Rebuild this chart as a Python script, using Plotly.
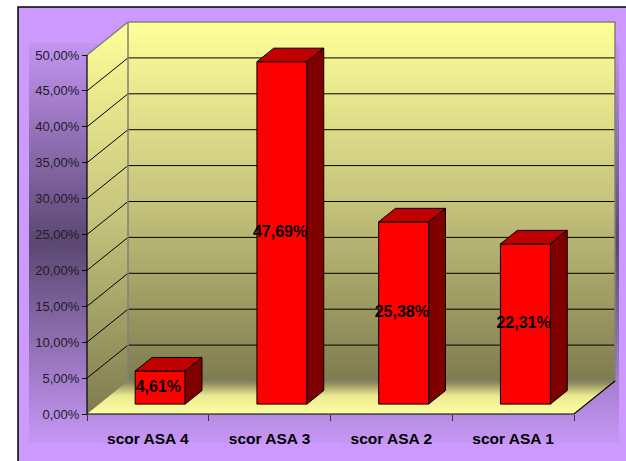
import plotly.graph_objects as go

# ---------------- data ----------------
categories = ["scor ASA 4", "scor ASA 3", "scor ASA 2", "scor ASA 1"]
values = [4.61, 47.69, 25.38, 22.31]
y_ticks = [0, 5, 10, 15, 20, 25, 30, 35, 40, 45, 50]
y_tick_labels = [f"{t:.2f}".replace(".", ",") + "%" for t in y_ticks]

# ---------------- geometry (pixel calibration of the 3D projection) ----------------
W, H = 626, 461
X0PX, CATPX = 87.0, 121.75      # pixel of front-left axis (x=-0.5), pixels per category
Y0PX, PCTPX = 414.0, 7.18       # pixel of 0 %, pixels per percent
DX, DV = 41 / CATPX, 33 / PCTPX  # depth offset in data units
F0, F1 = 0.30, 0.71              # bar depth start / end (fraction of depth)
BW = 50 / CATPX                  # bar width (category units)
VMAX = 50

def px2x(p):
    return (p - X0PX) / CATPX - 0.5

def py2v(p):
    return (Y0PX - p) / PCTPX

XR = [px2x(0), px2x(W)]
VR = [py2v(H), py2v(0)]
n = len(categories)
xl, xr = -0.5, n - 0.5

fig = go.Figure()

def poly(xs, vs, **kw):
    fig.add_trace(go.Scatter(x=list(xs) + [xs[0]], y=list(vs) + [vs[0]], fill="toself",
                             mode="lines", hoverinfo="skip", showlegend=False, **kw))

# plot-area gradient band (purple)
bx0, bx1, bv0, bv1 = px2x(29), px2x(619), py2v(443), py2v(43)
poly([bx0, bx1, bx1, bx0], [bv0, bv0, bv1, bv1], line=dict(width=0),
     fillgradient=dict(type="vertical", start=bv0, stop=bv1,
                       colorscale=[[0, "#C697F5"], [0.5, "#5B4771"], [1, "#C394F1"]]))

wall_cs = [[0, "#7E7C4F"], [0.5, "#C6C37C"], [1, "#FFFF99"]]
# back wall
poly([xl + DX, xr + DX, xr + DX, xl + DX], [DV, DV, VMAX + DV, VMAX + DV],
     line=dict(width=0),
     fillgradient=dict(type="vertical", start=DV, stop=VMAX + DV, colorscale=wall_cs))
# left wall
poly([xl, xl + DX, xl + DX, xl], [0, DV, VMAX + DV, VMAX], line=dict(width=0),
     fillgradient=dict(type="vertical", start=0, stop=VMAX + DV, colorscale=wall_cs))
# floor
poly([xl, xr, xr + DX, xl + DX], [0, 0, DV, DV], line=dict(width=0),
     fillgradient=dict(type="vertical", start=0, stop=DV,
                       colorscale=[[0, "#FFFFA3"], [0.55, "#ECEA91"], [1, "#7F7D50"]]))

# gridlines (black) on back wall + left wall
gx, gv = [], []
for t in y_ticks:
    if 0 < t < VMAX:
        gx += [xl, xl + DX, xr + DX, None]
        gv += [t, t + DV, t + DV, None]
fig.add_trace(go.Scatter(x=gx, y=gv, mode="lines", line=dict(color="black", width=1),
                         hoverinfo="skip", showlegend=False))
# wall borders (gray)
fig.add_trace(go.Scatter(
    x=[xl, xl + DX, xr + DX, xr + DX, xl + DX, xl + DX, None, xl + DX, xl + DX],
    y=[VMAX, VMAX + DV, VMAX + DV, DV, DV, VMAX + DV, None, DV, DV],
    mode="lines", line=dict(color="#808080", width=1.5), hoverinfo="skip", showlegend=False))
# front edges (black): value axis line, floor front edge, floor right edge
fig.add_trace(go.Scatter(
    x=[xl, xl, xr, xr + DX], y=[VMAX, 0, 0, DV],
    mode="lines", line=dict(color="black", width=1.2), hoverinfo="skip", showlegend=False))

# ---------------- bars (overlay subplot so they sit above the walls) ----------------
base = F0 * DV
off = F0 * DX - BW / 2
ddx, ddv = (F1 - F0) * DX, (F1 - F0) * DV
xs_cat = list(range(n))
fig.add_trace(go.Bar(x=xs_cat, y=values, base=base, width=BW, offset=off,
                     marker=dict(color="#FF0000", line=dict(color="black", width=1)),
                     xaxis="x2", yaxis="y2", hoverinfo="skip", showlegend=False))
for i, v in enumerate(values):
    L = i + off
    R = L + BW
    T = base + v
    # top face
    fig.add_trace(go.Scatter(x=[L, R, R + ddx, L + ddx, L], y=[T, T, T + ddv, T + ddv, T],
                             fill="toself", fillcolor="#C00000", mode="lines",
                             line=dict(color="black", width=1), xaxis="x2", yaxis="y2",
                             hoverinfo="skip", showlegend=False))
    # side face
    fig.add_trace(go.Scatter(x=[R, R, R + ddx, R + ddx, R], y=[base, T, T + ddv, base + ddv, base],
                             fill="toself", fillcolor="#800000", mode="lines",
                             line=dict(color="black", width=1), xaxis="x2", yaxis="y2",
                             hoverinfo="skip", showlegend=False))

labels = [f"{v:.2f}".replace(".", ",") + "%" for v in values]
fig.add_trace(go.Scatter(x=[i + F0 * DX - 0.015 for i in xs_cat], y=[base + v / 2 for v in values],
                         text=labels, mode="text", textposition="middle center",
                         textfont=dict(family="Liberation Sans, Arial", size=16, color="black",
                                       weight="bold"),
                         xaxis="x2", yaxis="y2", hoverinfo="skip", showlegend=False))

axis_pos_x = X0PX / W
axis_pos_y = (H - Y0PX) / H

fig.update_layout(
    width=W, height=H, autosize=False,
    margin=dict(l=0, r=0, t=0, b=0),
    paper_bgcolor="white", plot_bgcolor="rgba(0,0,0,0)",
    showlegend=False,
    xaxis=dict(range=XR, anchor="free", position=axis_pos_y, showgrid=False, zeroline=False,
               showline=False, tickvals=[k - 0.5 for k in range(n + 1)], ticktext=[""] * (n + 1),
               ticks="outside", ticklen=6, tickcolor="#333333", tickwidth=1, fixedrange=True),
    yaxis=dict(range=VR, anchor="free", position=axis_pos_x, showgrid=False, zeroline=False,
               showline=False, tickvals=y_ticks, ticktext=y_tick_labels,
               ticks="outside", ticklen=5, tickcolor="black", tickwidth=1,
               tickfont=dict(family="Liberation Sans, Arial", size=13, color="#221c28"),
               fixedrange=True),
    xaxis2=dict(range=XR, overlaying="x", anchor="free", position=axis_pos_y, showgrid=False,
                zeroline=False, showline=False, tickvals=xs_cat, ticktext=categories,
                ticks="outside", ticklen=10, tickcolor="rgba(0,0,0,0)",
                tickfont=dict(family="Liberation Sans, Arial", size=15.5, color="black",
                              weight="bold"),
                fixedrange=True),
    yaxis2=dict(range=VR, overlaying="y", anchor="x2", visible=False, fixedrange=True),
    shapes=[dict(type="rect", xref="paper", yref="paper", x0=18 / W, x1=1.02, y0=-0.02,
                 y1=(H - 7) / H, fillcolor="#CC99FF", line=dict(color="black", width=1.5),
                 layer="below")],
)

fig.write_html("out.html")
